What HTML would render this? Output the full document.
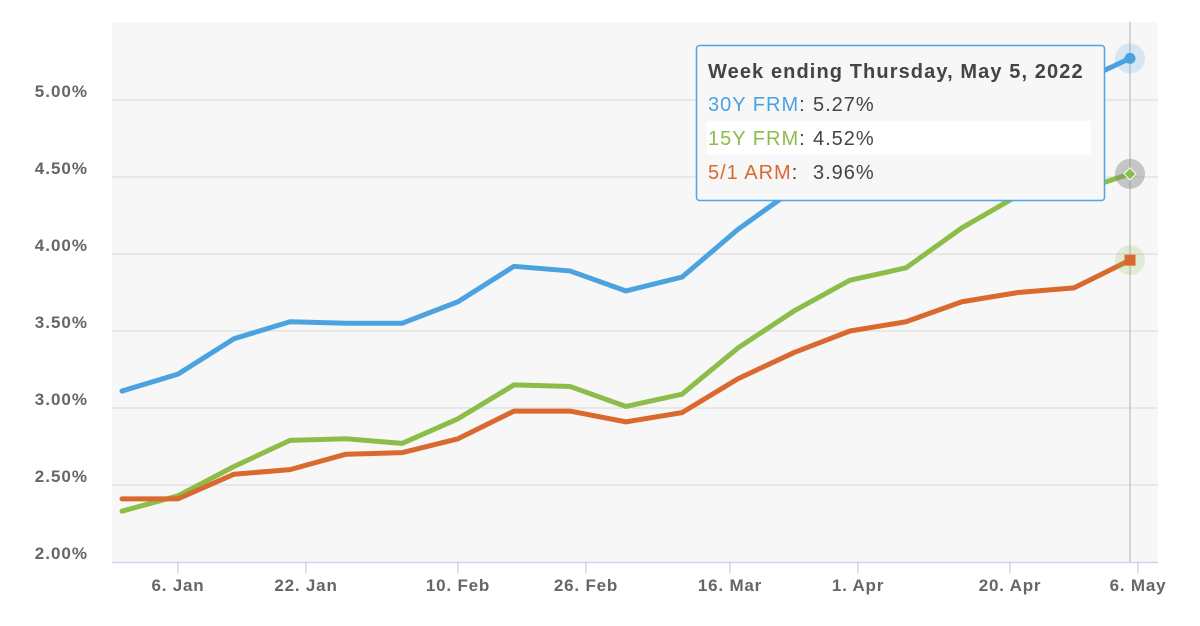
<!DOCTYPE html>
<html><head><meta charset="utf-8"><style>
body{margin:0;background:#fff;width:1200px;height:621px;overflow:hidden;font-family:"Liberation Sans",sans-serif}
svg text{font-family:"Liberation Sans",sans-serif}
</style></head><body>
<svg id="c" width="1200" height="621">
<rect x="112" y="22" width="1046" height="540" fill="#f7f7f7"/>
<g id="grid"></g><g id="xax"></g><g id="lines"></g><g id="marks"></g>
<g>
<rect x="696.5" y="45.5" width="408" height="155" rx="3" fill="#f7f7f7" stroke="#4da6e8" stroke-width="1.5"/>
<rect x="707" y="121" width="384" height="34" fill="#fff"/>
<text x="708" y="78" font-size="20" font-weight="bold" fill="#444" letter-spacing="1.1">Week ending Thursday, May 5, 2022</text>
<text x="708" y="111" font-size="20" letter-spacing="1"><tspan fill="#4aa3df">30Y FRM</tspan><tspan fill="#444">:</tspan><tspan x="813" fill="#444">5.27%</tspan></text>
<text x="708" y="145" font-size="20" letter-spacing="1"><tspan fill="#8bbd48">15Y FRM</tspan><tspan fill="#444">:</tspan><tspan x="813" fill="#444">4.52%</tspan></text>
<text x="708" y="179" font-size="20" letter-spacing="1"><tspan fill="#d9692e">5/1 ARM</tspan><tspan fill="#444">:</tspan><tspan x="813" fill="#444">3.96%</tspan></text>
</g>
</svg>
<script>
const dates=["2021-12-30","2022-01-06","2022-01-13","2022-01-20","2022-01-27","2022-02-03","2022-02-10","2022-02-17","2022-02-24","2022-03-03","2022-03-10","2022-03-17","2022-03-24","2022-03-31","2022-04-07","2022-04-14","2022-04-21","2022-04-28","2022-05-05"];
const frm30=[3.11,3.22,3.45,3.56,3.55,3.55,3.69,3.92,3.89,3.76,3.85,4.16,4.42,4.67,4.72,5.00,5.11,5.10,5.27];
const frm15=[2.33,2.43,2.62,2.79,2.80,2.77,2.93,3.15,3.14,3.01,3.09,3.39,3.63,3.83,3.91,4.17,4.38,4.40,4.52];
const arm51=[2.41,2.41,2.57,2.60,2.70,2.71,2.80,2.98,2.98,2.91,2.97,3.19,3.36,3.50,3.56,3.69,3.75,3.78,3.96];
const yTicks=[2.0,2.5,3.0,3.5,4.0,4.5,5.0];
const xTickDates=["2022-01-06","2022-01-22","2022-02-10","2022-02-26","2022-03-16","2022-04-01","2022-04-20","2022-05-06"];
const xTickLabels=["6. Jan","22. Jan","10. Feb","26. Feb","16. Mar","1. Apr","20. Apr","6. May"];
const NS="http://www.w3.org/2000/svg";
const d0=Date.parse("2022-01-06");
function X(d){return 178+(Date.parse(d)-d0)/864e5*8;}
function Y(v){return 562-(v-2)*154;}
function mk(p,t,a){const e=document.createElementNS(NS,t);for(const k in a)e.setAttribute(k,a[k]);p.appendChild(e);return e;}
const grid=document.getElementById('grid'),xax=document.getElementById('xax'),lines=document.getElementById('lines'),marks=document.getElementById('marks');
yTicks.forEach(v=>{
 if(v>2){const l=mk(grid,'line',{x1:112,x2:1158,y1:Y(v),y2:Y(v),stroke:'#e3e3e3','stroke-width':1.5});
 
 }
 const t=mk(grid,'text',{x:88,y:Y(v)-3,'text-anchor':'end','font-size':17,'font-weight':'bold',fill:'#666','letter-spacing':1});
 t.textContent=v.toFixed(2)+'%';
 
 
});
const ax=mk(xax,'line',{x1:112,x2:1158,y1:562.5,y2:562.5,stroke:'#ccd6eb','stroke-width':1.5});


xTickDates.forEach((d,i)=>{
 const x=X(d);
 const tk=mk(xax,'line',{x1:x,x2:x,y1:562,y2:573,stroke:'#ccd6eb','stroke-width':1.5});
 
 
 const t=mk(xax,'text',{x:x,y:591,'text-anchor':'middle','font-size':17,'font-weight':'bold',fill:'#666','letter-spacing':0.8});
 t.textContent=xTickLabels[i];
 
 
});
const cx=X(dates[dates.length-1]);
const ch=mk(grid,'line',{x1:cx,x2:cx,y1:22,y2:562,stroke:'#c8c8c8','stroke-width':1.5});


[[frm30,'#4aa3df','line-30y-frm'],[frm15,'#8bbd48','line-15y-frm'],[arm51,'#d9692e','line-5-1-arm']].forEach(([s,c,n])=>{
 const p=mk(lines,'path',{d:s.map((v,i)=>(i?'L':'M')+X(dates[i])+' '+Y(v)).join(''),fill:'none',stroke:c,'stroke-width':5,'stroke-linejoin':'round','stroke-linecap':'round'});
 
 
});
const L=dates.length-1;
let h=mk(marks,'circle',{cx:cx,cy:Y(frm30[L]),r:15,fill:'#4aa3df','fill-opacity':0.2});

h=mk(marks,'circle',{cx:cx,cy:Y(frm30[L]),r:5.5,fill:'#4aa3df'});

h=mk(marks,'circle',{cx:cx,cy:Y(frm15[L]),r:15,fill:'#888','fill-opacity':0.45});

const gy=Y(frm15[L]);
h=mk(marks,'path',{d:`M${cx} ${gy-6}L${cx+6} ${gy}L${cx} ${gy+6}L${cx-6} ${gy}Z`,fill:'#8bbd48',stroke:'#fff','stroke-width':1});

h=mk(marks,'circle',{cx:cx,cy:Y(arm51[L]),r:15,fill:'#8bbd48','fill-opacity':0.2});

h=mk(marks,'rect',{x:cx-5.5,y:Y(arm51[L])-5.5,width:11,height:11,fill:'#d9692e'});

</script>
</body></html>
